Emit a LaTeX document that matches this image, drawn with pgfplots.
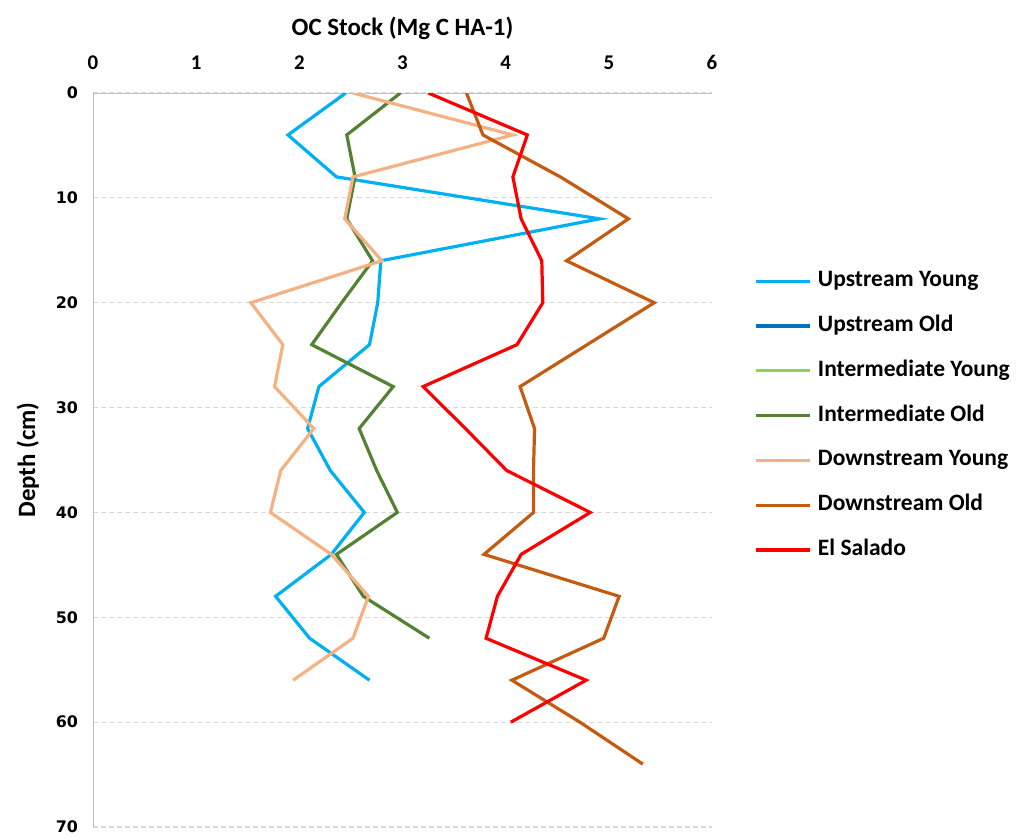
\documentclass[border=0pt]{standalone}
\usepackage{fontspec}
\setmainfont{Carlito}
\newfontfamily\dvb{DejaVu Sans}
\usepackage{pgfplots}
\pgfplotsset{compat=1.18}
\definecolor{cUY}{HTML}{00B0F0}
\definecolor{cUO}{HTML}{0070C0}
\definecolor{cIY}{HTML}{92D050}
\definecolor{cIO}{HTML}{548235}
\definecolor{cDY}{HTML}{F4B183}
\definecolor{cDO}{HTML}{C55A11}
\definecolor{cES}{HTML}{FF0000}
\definecolor{axgray}{HTML}{BFBFBF}
\definecolor{grgray}{HTML}{D9D9D9}
\begin{document}
\begin{tikzpicture}
\useasboundingbox (0,0) rectangle (509bp,418bp);
\begin{axis}[
  at={(46.5bp,4.5bp)}, anchor=south west,
  scale only axis, width=309.5bp, height=367bp,
  xmin=0, xmax=6, ymin=0, ymax=70,
  y dir=reverse,
  xtick={0,1,...,6}, ytick={0,10,...,70},
  axis line style={draw=none},
  major tick length=0pt,
  ymajorgrids, grid style={grgray, dash pattern=on 2.5bp off 1.5bp, line width=0.6bp},
  xticklabel pos=right,
  /pgf/number format/assume math mode=true,
  xticklabel style={font=\bfseries\fontsize{10.5}{10.5}\selectfont, yshift=8bp},
  yticklabel style={font=\dvb\bfseries\fontsize{8}{8}\selectfont, xshift=-4bp},
  xlabel={OC Stock (Mg C HA-1)},
  xlabel style={font=\bfseries\fontsize{12.5}{12.5}\selectfont, yshift=1bp},
  ylabel={Depth (cm)},
  ylabel style={font=\bfseries\fontsize{12.5}{12.5}\selectfont, yshift=1.5bp},
  legend style={draw=none, fill=none, at={(1.0685,0.5606)}, anchor=west,
    inner sep=0pt, row sep=11.9bp, column sep=3bp,
    font=\bfseries\fontsize{11.8}{11.8}\selectfont,
    nodes={inner sep=0pt, text height=8bp, text depth=2.5bp}},
  legend cell align=left,
  legend image code/.code={\draw[#1] (0bp,0bp) -- (27bp,0bp);},
  every axis plot/.append style={line width=1.6bp, line join=miter},
]
\draw[axgray, line width=0.8bp] (axis cs:0,0) -- (axis cs:6,0);
\draw[axgray, line width=0.8bp] (axis cs:0,0) -- (axis cs:0,70);
\addplot[cUY, no markers] coordinates {(2.45,0)(1.89,4)(2.36,8)(4.91,12)(2.79,16)(2.76,20)(2.68,24)(2.19,28)(2.08,32)(2.30,36)(2.63,40)(2.31,44)(1.77,48)(2.10,52)(2.68,56)};
\addlegendentry{Upstream Young}
\addlegendimage{cUO, line width=1.6bp}
\addlegendentry{Upstream Old}
\addlegendimage{cIY, line width=1.6bp}
\addlegendentry{Intermediate Young}
\addplot[cIO, no markers] coordinates {(2.98,0)(2.46,4)(2.54,8)(2.46,12)(2.71,16)(2.41,20)(2.12,24)(2.91,28)(2.58,32)(2.75,36)(2.95,40)(2.36,44)(2.62,48)(3.26,52)};
\addlegendentry{Intermediate Old}
\addplot[cDY, no markers] coordinates {(2.52,0)(4.07,4)(2.52,8)(2.44,12)(2.80,16)(1.53,20)(1.84,24)(1.76,28)(2.14,32)(1.82,36)(1.72,40)(2.31,44)(2.67,48)(2.52,52)(1.94,56)};
\addlegendentry{Downstream Young}
\addplot[cDO, no markers] coordinates {(3.62,0)(3.78,4)(4.53,8)(5.19,12)(4.59,16)(5.44,20)(4.79,24)(4.14,28)(4.28,32)(4.27,36)(4.27,40)(3.79,44)(5.10,48)(4.95,52)(4.06,56)(4.72,60)(5.33,64)};
\addlegendentry{Downstream Old}
\addplot[cES, no markers] coordinates {(3.25,0)(4.21,4)(4.07,8)(4.15,12)(4.35,16)(4.36,20)(4.11,24)(3.20,28)(3.61,32)(4.01,36)(4.82,40)(4.15,44)(3.92,48)(3.81,52)(4.78,56)(4.05,60)};
\addlegendentry{El Salado}
\end{axis}
\end{tikzpicture}
\end{document}
